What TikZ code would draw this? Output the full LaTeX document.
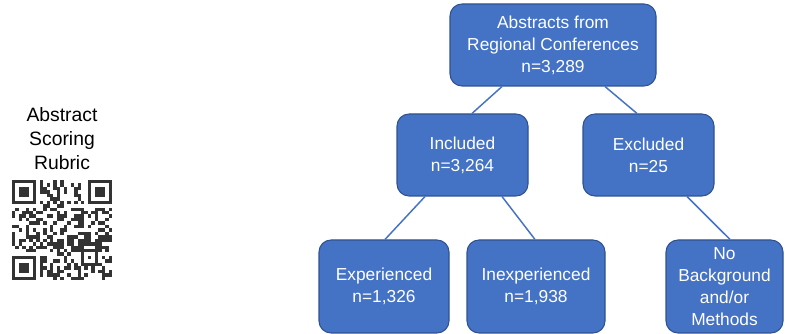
\documentclass[tikz,border=0pt]{standalone}
\usepackage{fontspec}
\setmainfont{Liberation Sans}
\usetikzlibrary{calc}
\definecolor{boxblue}{HTML}{4472C4}
\definecolor{boxedge}{HTML}{2F528F}
\definecolor{qrdark}{HTML}{333333}
\tikzset{
  flowbox/.style={rectangle, rounded corners=9pt, fill=boxblue, draw=boxedge, line width=0.8pt,
    text=white, align=center, font=\fontsize{13}{16.5}\selectfont, inner sep=2pt},
  link/.style={draw=boxblue, line width=1.1pt}
}
\begin{document}
\begin{tikzpicture}[x=0.75pt,y=-0.75pt]
\useasboundingbox[fill=white] (0,0) rectangle (785,334);

% flowchart boxes
\node[flowbox, minimum width=206*0.75pt, minimum height=82*0.75pt] (top) at (553,45)
  {Abstracts from\\Regional Conferences\\n=3,289};
\node[flowbox, minimum width=131*0.75pt, minimum height=82*0.75pt] (inc) at (462.5,155)
  {Included\\n=3,264};
\node[flowbox, minimum width=131*0.75pt, minimum height=82*0.75pt] (exc) at (648.5,155)
  {Excluded\\n=25};
\node[flowbox, minimum width=130*0.75pt, minimum height=93*0.75pt] (exp) at (384,286.5)
  {Experienced\\n=1,326};
\node[flowbox, minimum width=138*0.75pt, minimum height=93*0.75pt] (inexp) at (536,286.5)
  {Inexperienced\\n=1,938};
\node[flowbox, minimum width=117*0.75pt, minimum height=93*0.75pt] (nob) at (724.5,286.5)
  {No\\Background\\and/or\\Methods};

% connectors
\draw[link] ($(top.south)+(-51,0)$) -- ($(inc.north)+(9.5,0)$);
\draw[link] ($(top.south)+(52,0)$) -- ($(exc.north)+(-11.5,0)$);
\draw[link] ($(inc.south)+(-37.5,0)$) -- ($(exp.north)+(1,0)$);
\draw[link] ($(inc.south)+(39.5,0)$) -- ($(inexp.north)+(-1,0)$);
\draw[link] ($(exc.south)+(38.5,0)$) -- ($(nob.north)+(5.5,0)$);

% left label
\node[align=center, text=black, font=\fontsize{14.5}{18}\selectfont] (rubric) at (62,139)
  {Abstract\\Scoring\\Rubric};

% QR code
\begin{scope}[shift={(12,180)}, x=2.5875pt, y=-2.5875pt]
  \pgfmathsetseed{11}
  \foreach \i in {0,...,28}{
    \foreach \j in {0,...,28}{
      \pgfmathtruncatemacro\skipit{(\i<8)*(\j<8)+(\i>20)*(\j<8)+(\i<8)*(\j>20)+(\i>19)*(\i<25)*(\j>19)*(\j<25)}
      \pgfmathsetmacro\r{rnd}
      \ifnum\skipit=0
        \ifnum\j=6
          \pgfmathtruncatemacro\ev{mod(\i,2)}
          \ifnum\ev=0 \fill[qrdark] (\i,\j) rectangle ++(1,1); \fi
        \else\ifnum\i=6
          \pgfmathtruncatemacro\ev{mod(\j,2)}
          \ifnum\ev=0 \fill[qrdark] (\i,\j) rectangle ++(1,1); \fi
        \else
          \ifdim\r pt>0.52pt \fill[qrdark] (\i,\j) rectangle ++(1,1); \fi
        \fi\fi
      \fi
    }
  }
  \foreach \fx/\fy in {0/0,22/0,0/22}{
    \fill[qrdark] (\fx,\fy) rectangle ++(7,7);
    \fill[white] (\fx+1,\fy+1) rectangle ++(5,5);
    \fill[qrdark] (\fx+2,\fy+2) rectangle ++(3,3);
  }
  \fill[qrdark] (20,20) rectangle ++(5,5);
  \fill[white] (21,21) rectangle ++(3,3);
  \fill[qrdark] (22,22) rectangle ++(1,1);
\end{scope}
\end{tikzpicture}
\end{document}
